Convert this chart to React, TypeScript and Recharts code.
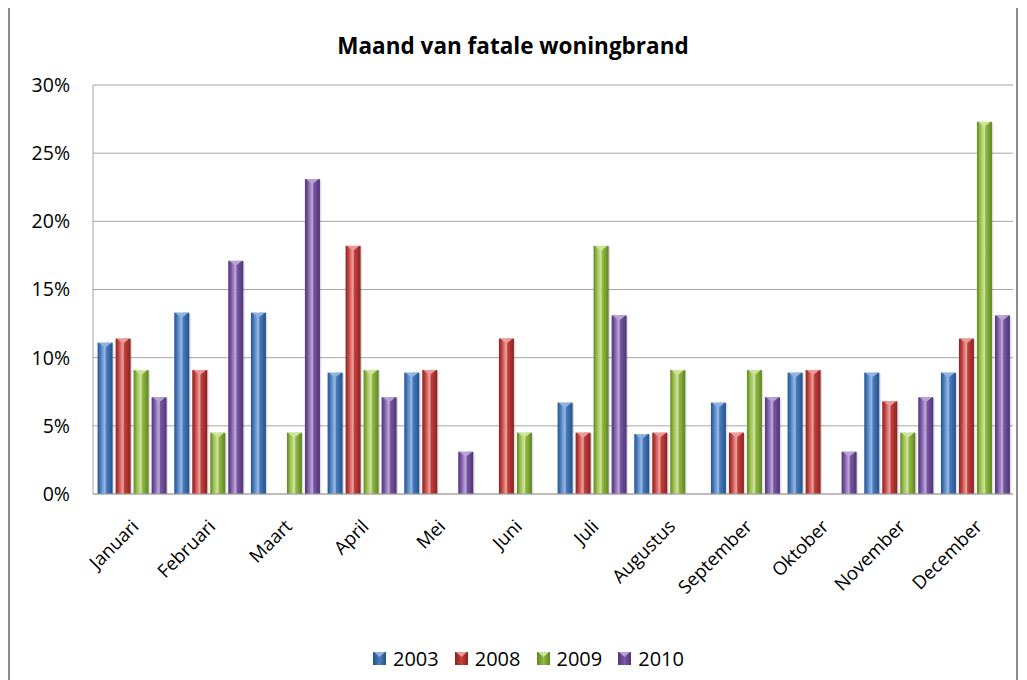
import { BarChart, Bar, XAxis, YAxis, CartesianGrid, Legend } from 'recharts';

// Maanden (categorieën)
const months = ['Januari', 'Februari', 'Maart', 'April', 'Mei', 'Juni', 'Juli', 'Augustus', 'September', 'Oktober', 'November', 'December'];

// Aandeel fatale woningbranden per maand (%)
const y2003 = [11.1, 13.3, 13.3, 8.9, 8.9, 0, 6.7, 4.4, 6.7, 8.9, 8.9, 8.9];
const y2008 = [11.4, 9.1, 0, 18.2, 9.1, 11.4, 4.5, 4.5, 4.5, 9.1, 6.8, 11.4];
const y2009 = [9.1, 4.5, 4.5, 9.1, 0, 4.5, 18.2, 9.1, 9.1, 0, 4.5, 27.3];
const y2010 = [7.1, 17.1, 23.1, 7.1, 3.1, 0, 13.1, 0, 7.1, 3.1, 7.1, 13.1];

const yTicks = [0, 5, 10, 15, 20, 25, 30];

const series = [
  { key: 'y2003', name: '2003', base: '#4a7dbf', dark: '#24528a', light: '#8fb4e3' },
  { key: 'y2008', name: '2008', base: '#c4413e', dark: '#8a2321', light: '#ec9a98' },
  { key: 'y2009', name: '2009', base: '#93bb45', dark: '#5f8424', light: '#cde59a' },
  { key: 'y2010', name: '2010', base: '#7b58a6', dark: '#4f3574', light: '#b9a3d6' },
];

const data = months.map((m, i) => ({
  month: m,
  y2003: y2003[i],
  y2008: y2008[i],
  y2009: y2009[i],
  y2010: y2010[i],
}));

const FONT = '"Open Sans", sans-serif';

// Balk met "bevel"-look zoals Excel 2007
const bevelShape = (id: string, light: string) => (props: any) => {
  const { x, y, width, height } = props;
  if (!height || height <= 0.5) return <g />;
  const t = Math.min(5, height);
  return (
    <g>
      <rect x={x + 1.5} y={y + 1} width={width} height={height - 1} fill="#000" opacity={0.12} />
      <rect x={x} y={y} width={width} height={height} fill={`url(#${id})`} />
      <path d={`M${x + 1},${y} L${x + width - 1},${y} L${x + width / 2},${y + t} Z`} fill={light} />
    </g>
  );
};

const MonthTick = (props: any) => {
  const { x, y, payload } = props;
  return (
    <g transform={`translate(${x + 4},${y + 21}) rotate(-45)`}>
      <text textAnchor="end" dy="0.35em" fontSize={18.5} fill="#000" fontFamily={FONT}>
        {payload.value}
      </text>
    </g>
  );
};

const LegendContent = () => (
  <div style={{ height: 50, display: 'flex', justifyContent: 'center', alignItems: 'center', paddingLeft: 50, fontFamily: FONT, fontSize: 20 }}>
    {series.map((s) => (
      <div key={s.key} style={{ display: 'flex', alignItems: 'center', marginRight: 16 }}>
        <svg width={13} height={13} style={{ marginRight: 7 }}>
          <rect x={0} y={0} width={13} height={13} fill={`url(#lg-${s.key})`} />
          <path d="M1,0 L12,0 L6.5,5 Z" fill={s.light} />
          <defs>
            <linearGradient id={`lg-${s.key}`} x1="0" y1="0" x2="1" y2="0">
              <stop offset="0%" stopColor={s.dark} />
              <stop offset="50%" stopColor={s.base} />
              <stop offset="100%" stopColor={s.dark} />
            </linearGradient>
          </defs>
        </svg>
        <span>{s.name}</span>
      </div>
    ))}
  </div>
);

export default function App() {
  return (
    <div style={{ position: 'relative', marginTop: -3, width: 1006, height: 680, border: '2px solid #8c8c8c', background: '#fff' }}>
      <div style={{ position: 'absolute', left: 0, width: 1006, top: 23, textAlign: 'center', fontFamily: FONT, fontWeight: 700, fontSize: 22.5, color: '#000' }}>
        Maand van fatale woningbrand
      </div>
      <BarChart width={1006} height={676} data={data} margin={{ top: 78, right: 3, left: 0, bottom: 0 }} barCategoryGap="6%" barGap={3}>
        <defs>
          {series.map((s) => (
            <linearGradient key={s.key} id={`g-${s.key}`} x1="0" y1="0" x2="1" y2="0">
              <stop offset="0%" stopColor={s.dark} />
              <stop offset="20%" stopColor={s.base} />
              <stop offset="50%" stopColor={s.light} stopOpacity={0.85} />
              <stop offset="58%" stopColor={s.base} />
              <stop offset="100%" stopColor={s.dark} />
            </linearGradient>
          ))}
        </defs>
        <CartesianGrid vertical={false} stroke="#a6a6a6" />
        <XAxis
          dataKey="month"
          height={139}
          tick={<MonthTick />}
          tickLine={false}
          axisLine={{ stroke: '#a6a6a6' }}
          interval={0}
        />
        <YAxis
          width={83}
          domain={[0, 30]}
          ticks={yTicks}
          tickFormatter={(v: number) => `${v}%`}
          tickLine={false}
          tickSize={0}
          tickMargin={23}
          axisLine={{ stroke: '#a6a6a6' }}
          tick={{ fontSize: 19.5, fill: '#000', fontFamily: FONT }}
        />
        <Legend verticalAlign="bottom" height={50} content={<LegendContent />} />
        {series.map((s) => (
          <Bar key={s.key} dataKey={s.key} name={s.name} fill={s.base} shape={bevelShape(`g-${s.key}`, s.light)} isAnimationActive={false} />
        ))}
      </BarChart>
    </div>
  );
}
